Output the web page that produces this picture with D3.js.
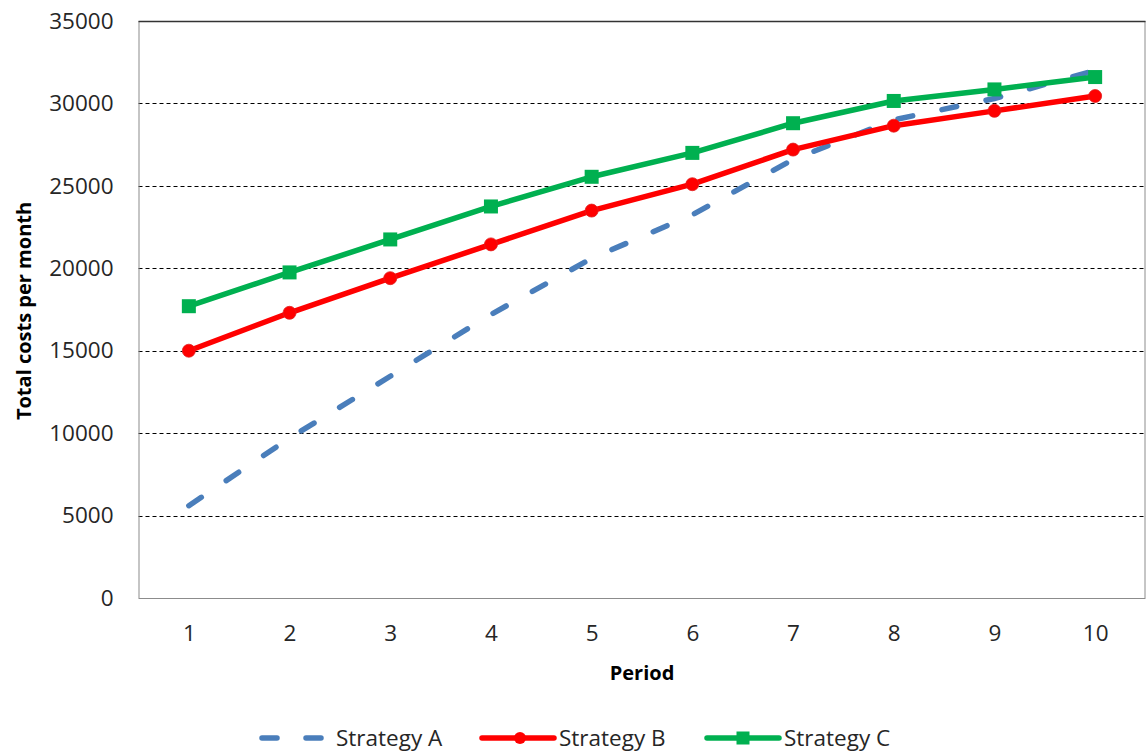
<!DOCTYPE html>
<meta charset="utf-8">
<script src="https://d3js.org/d3.v7.min.js"></script>
<style type="text/css">
body { margin: 0; background: #fff; }
.chart text { font-family: "Open Sans", sans-serif; fill: #262626; }
.chart .tick text { font-size: 22.5px; }
.chart .title { font-size: 20px; font-weight: bold; fill: #000; }
.chart .legend text { font-size: 22.5px; }
.chart .grid line { stroke: #000; stroke-width: 1; stroke-dasharray: 4,3; }
</style>
<body>
<div id="canvas"></div>
<script>

var periods = [1, 2, 3, 4, 5, 6, 7, 8, 9, 10];
var strategyA = [5600, 9700, 13450, 17200, 20600, 23250, 26600, 29000, 30300, 32000];
var strategyB = [15000, 17300, 19400, 21450, 23500, 25100, 27200, 28650, 29550, 30450];
var strategyC = [17700, 19750, 21750, 23750, 25550, 27000, 28800, 30150, 30850, 31600];
var yTicks = [0, 5000, 10000, 15000, 20000, 25000, 30000, 35000];
var seriesNames = ["Strategy A", "Strategy B", "Strategy C"];

var width = 1148;
var height = 754;
var margin = {top: 21, right: 2.5, bottom: 156, left: 138.5};

var svg = d3.select('#canvas')
	.append("svg")
	.attr("class", "chart")
	.attr("width", width)
	.attr("height", height);

var w = width - margin.left - margin.right;
var h = height - margin.top - margin.bottom;

var g = svg.append("g")
	.attr("transform", "translate(" + margin.left + "," + margin.top + ")");

// escalas ------------------------------------------------------------
var x = d3.scalePoint()
	.domain(periods)
	.range([0, w])
	.padding(0.5);

var y = d3.scaleLinear()
	.domain([0, 35000])
	.range([h, 0]);

// linhas de grade ------------------------------------------------------
g.append("g")
	.attr("class", "grid")
	.selectAll("line")
	.data(yTicks.filter(function(d) { return d > 0 && d < 35000; }))
	.enter().append("line")
	.attr("x1", 0)
	.attr("x2", w)
	.attr("y1", function(d) { return Math.round(y(d)) + 0.5; })
	.attr("y2", function(d) { return Math.round(y(d)) + 0.5; });

// bordas
g.append("rect")
	.attr("x", 0.5)
	.attr("y", 0.5)
	.attr("width", w - 1)
	.attr("height", h)
	.attr("fill", "none")
	.attr("stroke", "#8c8c8c")
	.attr("stroke-width", 1);

g.append("line")
	.attr("x1", 0)
	.attr("x2", w)
	.attr("y1", 0.5)
	.attr("y2", 0.5)
	.attr("stroke", "#333")
	.attr("stroke-width", 1.5);

// eixos ------------------------------------------------------------
var yAxis = d3.axisLeft(y)
	.tickValues(yTicks)
	.tickSize(0)
	.tickPadding(25)
	.tickFormat(d3.format("d"));

g.append("g")
	.call(yAxis)
	.call(function(s) { s.select(".domain").remove(); });

var xAxis = d3.axisBottom(x)
	.tickSize(0)
	.tickPadding(27);

g.append("g")
	.attr("transform", "translate(0," + h + ")")
	.call(xAxis)
	.call(function(s) { s.select(".domain").remove(); });

svg.selectAll(".tick text").style("font-family", "'Open Sans', sans-serif").attr("fill", "#262626");

// titulos
svg.append("text")
	.attr("class", "title")
	.attr("x", margin.left + w / 2)
	.attr("y", 680)
	.style("text-anchor", "middle")
	.text("Period");

svg.append("text")
	.attr("class", "title")
	.attr("transform", "translate(31," + 311 + ") rotate(-90)")
	.style("text-anchor", "middle")
	.text("Total costs per month");

// series --------------------------------------------------------------
var line = d3.line()
	.x(function(d, i) { return x(periods[i]); })
	.y(function(d) { return y(d); });

g.append("path")
	.attr("d", line(strategyA))
	.attr("fill", "none")
	.attr("stroke", "#4a7ebb")
	.attr("stroke-width", 5.5)
	.attr("stroke-linecap", "round")
	.attr("stroke-dasharray", "15,30");

g.append("path")
	.attr("d", line(strategyB))
	.attr("fill", "none")
	.attr("stroke", "#ff0000")
	.attr("stroke-width", 5.5)
	.attr("stroke-linejoin", "round");

g.selectAll(".ptB")
	.data(strategyB)
	.enter().append("circle")
	.attr("class", "ptB")
	.attr("cx", function(d, i) { return x(periods[i]); })
	.attr("cy", function(d) { return y(d); })
	.attr("r", 6.5)
	.attr("fill", "#ff0000")
	.attr("stroke", "#e02020")
	.attr("stroke-width", 0.8);

g.append("path")
	.attr("d", line(strategyC))
	.attr("fill", "none")
	.attr("stroke", "#00b050")
	.attr("stroke-width", 5.5)
	.attr("stroke-linejoin", "round");

g.selectAll(".ptC")
	.data(strategyC)
	.enter().append("rect")
	.attr("class", "ptC")
	.attr("x", function(d, i) { return x(periods[i]) - 7; })
	.attr("y", function(d) { return y(d) - 7; })
	.attr("width", 14)
	.attr("height", 14)
	.attr("fill", "#00b050");

// legenda --------------------------------------------------------------
var legY = 738;
var legX = [259, 482, 707];
var leg = svg.append("g").attr("class", "legend");

leg.append("line")
	.attr("x1", legX[0] + 3).attr("x2", legX[0] + 68)
	.attr("y1", legY).attr("y2", legY)
	.attr("stroke", "#4a7ebb")
	.attr("stroke-width", 5.5)
	.attr("stroke-linecap", "round")
	.attr("stroke-dasharray", "15,29");

leg.append("line")
	.attr("x1", legX[1]).attr("x2", legX[1] + 72)
	.attr("y1", legY).attr("y2", legY)
	.attr("stroke", "#ff0000")
	.attr("stroke-width", 5.5)
	.attr("stroke-linecap", "round");

leg.append("circle")
	.attr("cx", legX[1] + 38).attr("cy", legY).attr("r", 6)
	.attr("fill", "#ff0000");

leg.append("line")
	.attr("x1", legX[2]).attr("x2", legX[2] + 72)
	.attr("y1", legY).attr("y2", legY)
	.attr("stroke", "#00b050")
	.attr("stroke-width", 5.5)
	.attr("stroke-linecap", "round");

leg.append("rect")
	.attr("x", legX[2] + 36 - 6.5).attr("y", legY - 6.5)
	.attr("width", 13).attr("height", 13)
	.attr("fill", "#00b050");

leg.selectAll(".lt")
	.data(seriesNames)
	.enter().append("text")
	.attr("class", "lt")
	.attr("x", function(d, i) { return legX[i] + 77; })
	.attr("y", legY)
	.attr("dy", ".35em")
	.text(function(d) { return d; });

</script>
</body>
